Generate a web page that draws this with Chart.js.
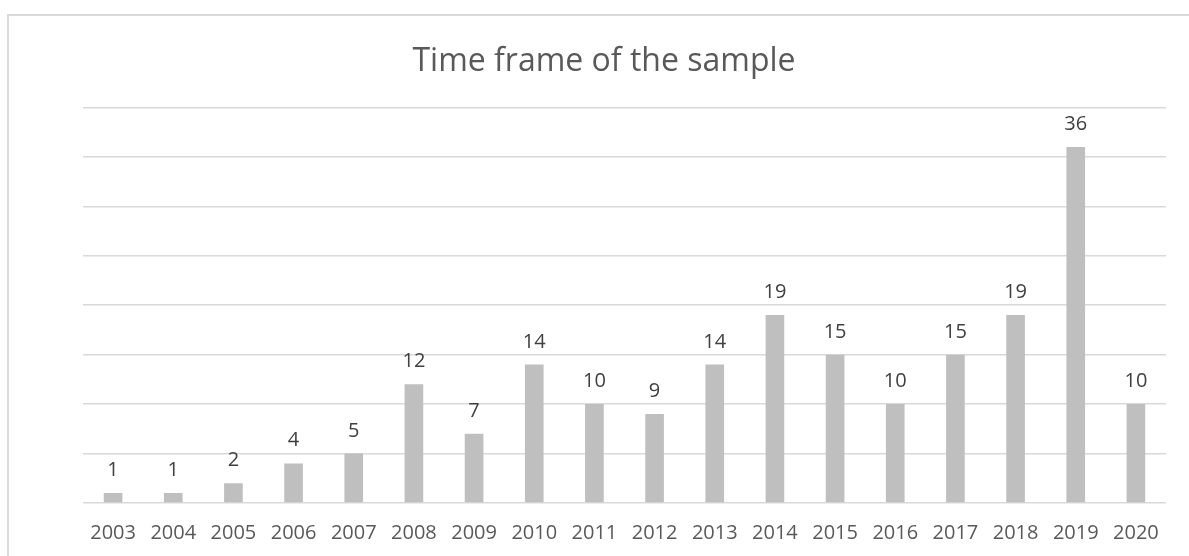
<!DOCTYPE html>
<html>
<head>
<meta charset="utf-8">
<script src="https://cdn.jsdelivr.net/npm/chart.js@4"></script>
<style>
  html, body { margin: 0; padding: 0; background: #fff; overflow: hidden; }
  #frame {
    position: absolute; left: 7px; top: 14px; width: 1200px; height: 580px;
    border-top: 2px solid #d9d9d9; border-left: 2px solid #d9d9d9; overflow: hidden;
  }
  #wrap { position: absolute; left: 0; top: 0; width: 1190px; height: 559px; }
</style>
</head>
<body>
<div id="frame"><div id="wrap"><canvas id="timeframe"></canvas></div></div>
<script>
// values
var years = ['2003', '2004', '2005', '2006', '2007', '2008', '2009', '2010', '2011',
             '2012', '2013', '2014', '2015', '2016', '2017', '2018', '2019', '2020'];
var papers = [1, 1, 2, 4, 5, 12, 7, 14, 10, 9, 14, 19, 15, 10, 15, 19, 36, 10];
var chartTitle = 'Time frame of the sample';
var yMax = 40;
var yStep = 5;

// simple value labels above each bar (no datalabels plugin offline)
const barLabels = {
  id: 'barLabels',
  afterDatasetsDraw(chart) {
    const ctx = chart.ctx;
    const meta = chart.getDatasetMeta(0);
    ctx.save();
    ctx.font = '20px "Open Sans"';
    ctx.fillStyle = '#404040';
    ctx.textAlign = 'center';
    ctx.textBaseline = 'alphabetic';
    meta.data.forEach(function(bar, i) {
      ctx.fillText(String(papers[i]), bar.x, bar.y - 17);
    });
    ctx.restore();
  }
};

Chart.defaults.font.family = '"Open Sans", sans-serif';
new Chart('timeframe', {
  type: 'bar',
  data: {
    labels: years,
    datasets: [{
      label: 'Papers',
      data: papers,
      backgroundColor: '#bfbfbf',
      borderWidth: 0,
      barPercentage: 1,
      categoryPercentage: 0.31,
    }]
  },
  options: {
    responsive: true,
    maintainAspectRatio: false,
    animation: false,
    layout: { padding: { left: 33, right: 33, top: 0, bottom: 12 } },
    plugins: {
      legend: { display: false },
      tooltip: { enabled: false },
      title: {
        display: true,
        text: chartTitle,
        color: '#595959',
        font: { size: 32, weight: 'normal' },
        padding: { top: 27, bottom: 26 },
      }
    },
    scales: {
      x: {
        grid: { display: false, drawTicks: false },
        border: { display: false },
        ticks: { color: '#595959', font: { size: 20 }, padding: 18, maxRotation: 0, autoSkip: false }
      },
      y: {
        min: 0,
        max: yMax,
        ticks: { display: false, stepSize: yStep },
        grid: { color: '#d9d9d9', lineWidth: 1.5, drawTicks: false },
        border: { display: false },
        afterFit: function(axis) { axis.width = 41; }
      }
    }
  },
  plugins: [barLabels]
});
</script>
</body>
</html>
